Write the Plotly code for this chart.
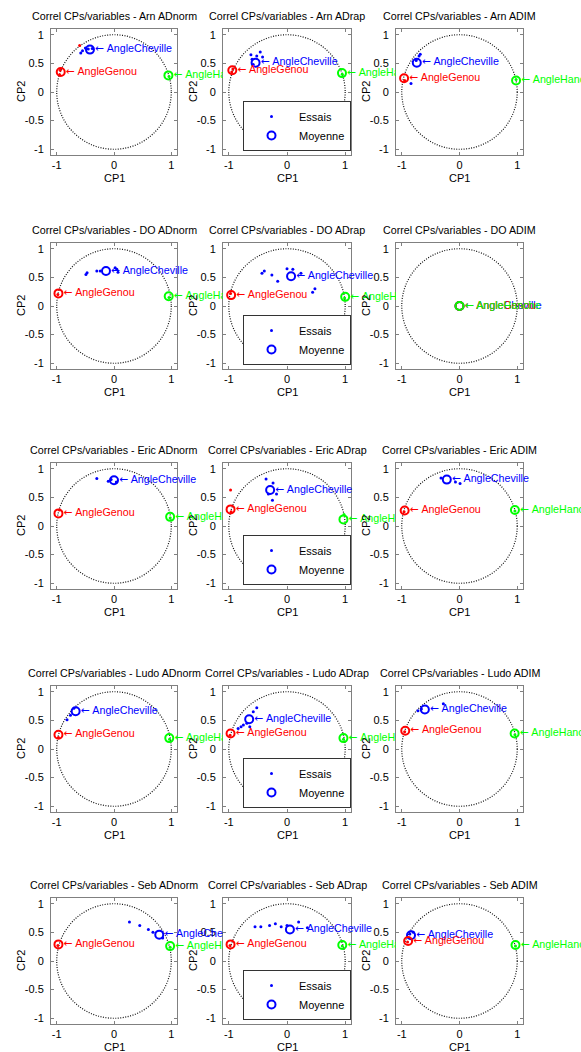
import plotly.graph_objects as go

# ---------------- data ----------------
subjects = ["Arn", "DO", "Eric", "Ludo", "Seb"]
conditions = ["ADnorm", "ADrap", "ADIM"]
variables = ["AngleCheville", "AngleGenou", "AngleHanche"]

# Mean correlations (panel order: row by row, conditions left->right)
cheville_cp1 = [-0.42, -0.54, -0.74, -0.14, 0.07, 0.0, 0.0, -0.29, -0.22, -0.67, -0.65, -0.60, 0.79, 0.05, -0.84]
cheville_cp2 = [0.74, 0.51, 0.51, 0.61, 0.52, 0.0, 0.80, 0.63, 0.81, 0.66, 0.52, 0.69, 0.46, 0.55, 0.45]
genou_cp1 = [-0.93, -0.94, -0.96, -0.97, -0.96, 0.0, -0.97, -0.97, -0.95, -0.97, -0.97, -0.94, -0.97, -0.97, -0.89]
genou_cp2 = [0.35, 0.38, 0.24, 0.22, 0.19, 0.0, 0.22, 0.29, 0.27, 0.25, 0.27, 0.32, 0.29, 0.29, 0.35]
hanche_cp1 = [0.95, 0.945, 0.98, 0.955, 1.0, 0.0, 0.98, 0.97, 0.96, 0.965, 0.97, 0.955, 0.98, 0.95, 0.97]
hanche_cp2 = [0.29, 0.33, 0.20, 0.17, 0.16, 0.0, 0.16, 0.115, 0.28, 0.19, 0.19, 0.27, 0.26, 0.28, 0.28]

# Individual trials (Essais)
cheville_essais_cp1 = [
    [-0.55, -0.58, -0.50, -0.45, -0.38],
    [-0.62, -0.46, -0.52, -0.42, -0.60, -0.58],
    [-0.70, -0.68, -0.75, -0.84],
    [-0.47, -0.30, -0.24, 0.05, 0.07, 0.02, -0.49],
    [-0.39, -0.43, -0.26, -0.16, 0.0, 0.10, 0.24, 0.48, 0.44],
    [],
    [-0.30, -0.10, -0.05, 0.04],
    [-0.36, -0.24, -0.25, -0.18, -0.32],
    [-0.32, 0.01, -0.07],
    [-0.82, -0.76, -0.70],
    [-0.58, -0.52, -0.79, -0.75, -0.69, -0.64, -0.84],
    [-0.72, -0.28, -0.66],
    [0.27, 0.45, 0.60, 0.68, 0.85],
    [-0.55, -0.45, -0.30, -0.20, -0.10, 0.0, 0.20, 0.35],
    [-0.80, -0.86],
]
cheville_essais_cp2 = [
    [0.72, 0.68, 0.77, 0.75, 0.76],
    [0.65, 0.70, 0.63, 0.61, 0.57, 0.48],
    [0.63, 0.66, 0.55, 0.15],
    [0.58, 0.61, 0.61, 0.64, 0.59, 0.67, 0.55],
    [0.61, 0.57, 0.54, 0.43, 0.65, 0.64, 0.57, 0.30, 0.24],
    [],
    [0.83, 0.78, 0.81, 0.77],
    [0.82, 0.75, 0.45, 0.56, 0.56],
    [0.84, 0.74, 0.77],
    [0.51, 0.59, 0.71],
    [0.65, 0.72, 0.39, 0.42, 0.45, 0.39, 0.36],
    [0.67, 0.79, 0.70],
    [0.68, 0.62, 0.55, 0.50, 0.40],
    [0.60, 0.60, 0.62, 0.65, 0.60, 0.62, 0.68, 0.58],
    [0.50, 0.47],
]
genou_essais_cp1 = [
    [-0.94, -0.95, -0.60], [-0.95, -0.93], [-0.95], [-0.98], [-0.97], [],
    [-0.95], [-0.97, -0.96], [-0.96], [-0.97], [-0.98], [-0.95],
    [-0.98], [-0.98], [-0.90],
]
genou_essais_cp2 = [
    [0.38, 0.30, 0.81], [0.35, 0.40], [0.20], [0.20], [0.22], [],
    [0.28], [0.63, 0.25], [0.25], [0.20], [0.24], [0.30],
    [0.27], [0.27], [0.33],
]
hanche_essais_cp1 = [
    [0.96], [0.95], [0.98], [0.96], [0.99], [],
    [0.98], [0.99, 0.98], [0.96], [0.97], [0.97], [0.96],
    [0.98], [0.95], [0.97],
]
hanche_essais_cp2 = [
    [0.27], [0.31], [0.22], [0.15], [0.14], [],
    [0.14], [-0.50, 0.20], [0.26], [0.17], [0.17], [0.25],
    [0.24], [0.26], [0.26],
]

means_cp1 = [cheville_cp1, genou_cp1, hanche_cp1]
means_cp2 = [cheville_cp2, genou_cp2, hanche_cp2]
essais_cp1 = [cheville_essais_cp1, genou_essais_cp1, hanche_essais_cp1]
essais_cp2 = [cheville_essais_cp2, genou_essais_cp2, hanche_essais_cp2]
var_colors = ["#0000ff", "#ff0000", "#00ff00"]

# ---------------- layout geometry ----------------
W, H = 581, 1052
col_px = [(51, 177), (223, 351), (396, 523)]
col_ext = [223, 396, 581]
row_top = [29, 243, 463, 686, 898]
BOX_H = 126
RANGE = [-1.1, 1.1]
FONT = "Liberation Sans, Arial, Helvetica, sans-serif"
AX_COLOR = "#808080"
ARROW = "<span style='font-family:DejaVu Sans'>\u2190</span> "


def fx(px):
    return px / W


def fy(py):
    return 1 - py / H


fig = go.Figure()
layout = {}
annotations = []
shapes = []
NP = 15

for r in range(5):
    for c in range(3):
        p = r * 3 + c
        i = p + 1
        j = NP + i
        L, R = col_px[c]
        T = row_top[r]
        B = T + BOX_H
        xn = "x" if i == 1 else f"x{i}"
        yn = "y" if i == 1 else f"y{i}"
        xk = "xaxis" if i == 1 else f"xaxis{i}"
        yk = "yaxis" if i == 1 else f"yaxis{i}"
        common = dict(
            range=RANGE, showgrid=False, zeroline=False, showline=True,
            linecolor=AX_COLOR, linewidth=1, mirror="allticks", ticks="inside",
            ticklen=3, tickcolor=AX_COLOR,
            tickfont=dict(family=FONT, size=11, color="black"),
            fixedrange=True,
        )
        layout[xk] = dict(common, domain=[fx(L), fx(R)], anchor=yn,
                          tickvals=[-1, 0, 1], ticktext=["-1", "0", "1"])
        layout[yk] = dict(common, domain=[fy(B), fy(T)], anchor=xn,
                          tickvals=[-1, -0.5, 0, 0.5, 1],
                          ticktext=["-1", "-0.5", "0", "0.5", "1"],
                          ticklabelstandoff=4)
        # extended (invisible) axes for text labels, clipped at the next panel
        sx = (R - L) / (RANGE[1] - RANGE[0])
        ext_max = RANGE[0] + (col_ext[c] - L) / sx
        layout[f"xaxis{j}"] = dict(domain=[fx(L), fx(col_ext[c])], range=[RANGE[0], ext_max],
                                   anchor=f"y{j}", visible=False, fixedrange=True)
        layout[f"yaxis{j}"] = dict(domain=[fy(B), fy(T)], range=RANGE,
                                   anchor=f"x{j}", visible=False, fixedrange=True)

        # unit circle
        shapes.append(dict(type="circle", xref=xn, yref=yn, x0=-1, y0=-1, x1=1, y1=1,
                           line=dict(color="#111111", width=1.2, dash="1px,1.5px"), layer="below"))

        # title and axis titles
        annotations.append(dict(text=f"Correl CPs/variables - {subjects[r]} {conditions[c]}",
                                x=fx((L + R) / 2), y=fy(T - 13), xref="paper", yref="paper",
                                xanchor="center", yanchor="middle", showarrow=False,
                                font=dict(family=FONT, size=10.7, color="black")))
        annotations.append(dict(text="CP1", x=fx((L + R) / 2), y=fy(B + 23), xref="paper",
                                yref="paper", xanchor="center", yanchor="middle",
                                showarrow=False, font=dict(family=FONT, size=11, color="black")))
        annotations.append(dict(text="CP2", x=fx(L - 30), y=fy((T + B) / 2), xref="paper",
                                yref="paper", xanchor="center", yanchor="middle", textangle=-90,
                                showarrow=False, font=dict(family=FONT, size=11, color="black")))

        legend_name = "legend" if r == 0 else f"legend{r + 1}"
        for v in range(3):
            col = var_colors[v]
            show = (c == 1 and v == 0)
            fig.add_trace(go.Scatter(
                x=essais_cp1[v][p], y=essais_cp2[v][p], mode="markers",
                marker=dict(symbol="circle", size=3, color=col),
                name="Essais", showlegend=show, legend=legend_name,
                xaxis=xn, yaxis=yn, hoverinfo="skip"))
            fig.add_trace(go.Scatter(
                x=[means_cp1[v][p]], y=[means_cp2[v][p]], mode="markers",
                marker=dict(symbol="circle-open", size=8, color=col, line=dict(width=2, color=col)),
                name="Moyenne", showlegend=show, legend=legend_name,
                xaxis=xn, yaxis=yn, hoverinfo="skip"))
        for v in range(3):
            fig.add_trace(go.Scatter(
                x=[means_cp1[v][p]], y=[means_cp2[v][p]], mode="markers+text",
                marker=dict(size=7, color="rgba(0,0,0,0)"),
                text=[ARROW + variables[v]], textposition="middle right",
                textfont=dict(family=FONT, size=10.7, color=var_colors[v]),
                showlegend=False, xaxis=f"x{j}", yaxis=f"y{j}", hoverinfo="skip",
                cliponaxis=True))

        if c == 1:
            layout[legend_name] = dict(
                x=fx(R), xanchor="right", y=fy(B - 4), yanchor="bottom",
                bgcolor="white", bordercolor="#333333", borderwidth=1,
                font=dict(family=FONT, size=11, color="black"),
                tracegroupgap=0, itemclick=False, itemdoubleclick=False,
                itemwidth=45)

fig.update_layout(
    width=W, height=H, margin=dict(l=0, r=0, t=0, b=0),
    paper_bgcolor="white", plot_bgcolor="rgba(0,0,0,0)",
    annotations=annotations, shapes=shapes,
    **layout,
)

fig.write_html("out.html", config={"displayModeBar": False},
               post_script="document.body.style.margin='0';")
